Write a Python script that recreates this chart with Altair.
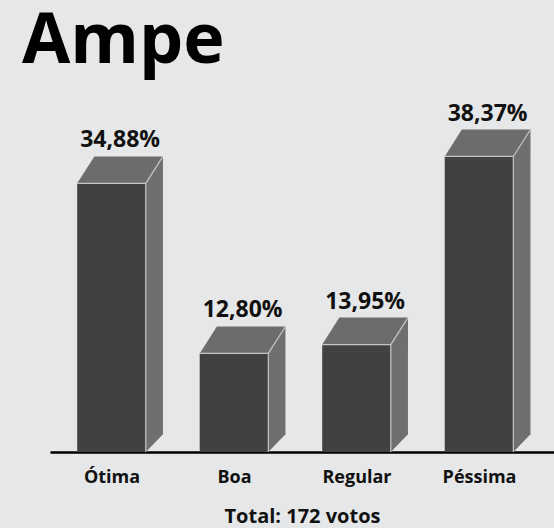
import json
import altair as alt
import pandas as pd

# ---- data ----
categories = ["Ótima", "Boa", "Regular", "Péssima"]
values = [34.88, 12.80, 13.95, 38.37]
value_labels = ["34,88%", "12,80%", "13,95%", "38,37%"]
chart_title = "Ampe"
total_text = "Total: 172 votos"

# ---- style constants (geometry of the pseudo-3D boxes) ----
BAR_W = 0.56      # front face width, in category units
DX = 0.14         # depth offset along x, category units
DY = 3.5          # depth offset along y, percentage units
DY_BOTTOM = 2.3   # rise of the side face's lower back corner

FRONT = "#414143"
TOP = "#6b6c6e"
SIDE = "#6e6f71"
EDGE = "#c4c5c7"
BG = "#e6e7e8"
FONT = "Open Sans"

front_rows, top_rows, side_rows, edge_rows, label_rows = [], [], [], [], []
for i, (c, v, lab) in enumerate(zip(categories, values, value_labels)):
    x0, x1 = i - BAR_W / 2, i + BAR_W / 2
    front_rows.append({"cat": c, "x0": x0, "x1": x1, "y0": 0.0, "y1": v})
    top_rows += [
        {"cat": c, "y": v, "xa": x0, "xb": x1},
        {"cat": c, "y": v + DY, "xa": x0 + DX, "xb": x1 + DX},
    ]
    side_rows += [
        {"cat": c, "x": x1, "ya": 0.0, "yb": v},
        {"cat": c, "x": x1 + DX, "ya": DY_BOTTOM, "yb": v + DY},
    ]
    edge_rows += [
        {"cat": c, "sx": x0, "sx2": x1, "sy": v, "sy2": v},
        {"cat": c, "sx": x1, "sx2": x1 + DX, "sy": v, "sy2": v + DY},
        {"cat": c, "sx": x1, "sx2": x1, "sy": 0.0, "sy2": v},
    ]
    label_rows.append({"cat": c, "x": i + DX / 2, "y": v + DY, "label": lab})

front_df = pd.DataFrame(front_rows)
top_df = pd.DataFrame(top_rows)
side_df = pd.DataFrame(side_rows)
edge_df = pd.DataFrame(edge_rows)
label_df = pd.DataFrame(label_rows)

xs = alt.Scale(domain=[-0.502, 3.612], nice=False, zero=False)
ys = alt.Scale(domain=[0, 47.0], nice=False, zero=False)

label_expr = json.dumps(categories, ensure_ascii=False) + "[datum.value]"

def x_axis():
    return alt.Axis(
        values=list(range(len(categories))),
        labelExpr=label_expr,
        ticks=False,
        grid=False,
        domainColor="#000000",
        domainWidth=2.5,
        labelFont=FONT,
        labelFontWeight="bold",
        labelFontSize=18,
        labelColor="#111111",
        labelPadding=16,
        title=total_text,
        titleFont=FONT,
        titleFontWeight="bold",
        titleFontSize=20,
        titleColor="#111111",
        titlePadding=20,
    )

front = alt.Chart(front_df).mark_rect(color=FRONT).encode(
    x=alt.X("x0:Q", scale=xs, axis=x_axis()),
    x2="x1:Q",
    y=alt.Y("y0:Q", scale=ys, axis=None),
    y2="y1:Q",
)

top = alt.Chart(top_df).mark_area(color=TOP, orient="horizontal").encode(
    y=alt.Y("y:Q", scale=ys, axis=None),
    x=alt.X("xa:Q", scale=xs, axis=x_axis()),
    x2="xb:Q",
    detail="cat:N",
)

side = alt.Chart(side_df).mark_area(color=SIDE, orient="vertical").encode(
    x=alt.X("x:Q", scale=xs, axis=x_axis()),
    y=alt.Y("ya:Q", scale=ys, axis=None),
    y2="yb:Q",
    detail="cat:N",
)

edges = alt.Chart(edge_df).mark_rule(color=EDGE, strokeWidth=1.2).encode(
    x=alt.X("sx:Q", scale=xs, axis=x_axis()),
    x2="sx2:Q",
    y=alt.Y("sy:Q", scale=ys, axis=None),
    y2="sy2:Q",
)

labels = alt.Chart(label_df).mark_text(
    font=FONT, fontWeight="bold", fontSize=23, color="#111111",
    baseline="alphabetic", align="center", dy=-9,
).encode(
    x=alt.X("x:Q", scale=xs, axis=x_axis()),
    y=alt.Y("y:Q", scale=ys, axis=None),
    text="label:N",
)

chart = alt.layer(front, top, side, edges, labels).properties(
    width=504,
    height=362,
    autosize=alt.AutoSizeParams(type="none"),
    padding={"left": 50, "top": 90, "right": 0, "bottom": 76},
    title=alt.TitleParams(
        chart_title,
        anchor="start",
        frame="group",
        font=FONT,
        fontWeight="bold",
        fontSize=70,
        color="#000000",
        dx=-28,
        dy=63,
        offset=20,
        baseline="alphabetic",
    ),
).configure(background=BG).configure_view(stroke=None)

chart.save("out.html", embed_options={"renderer": "svg", "actions": False})
